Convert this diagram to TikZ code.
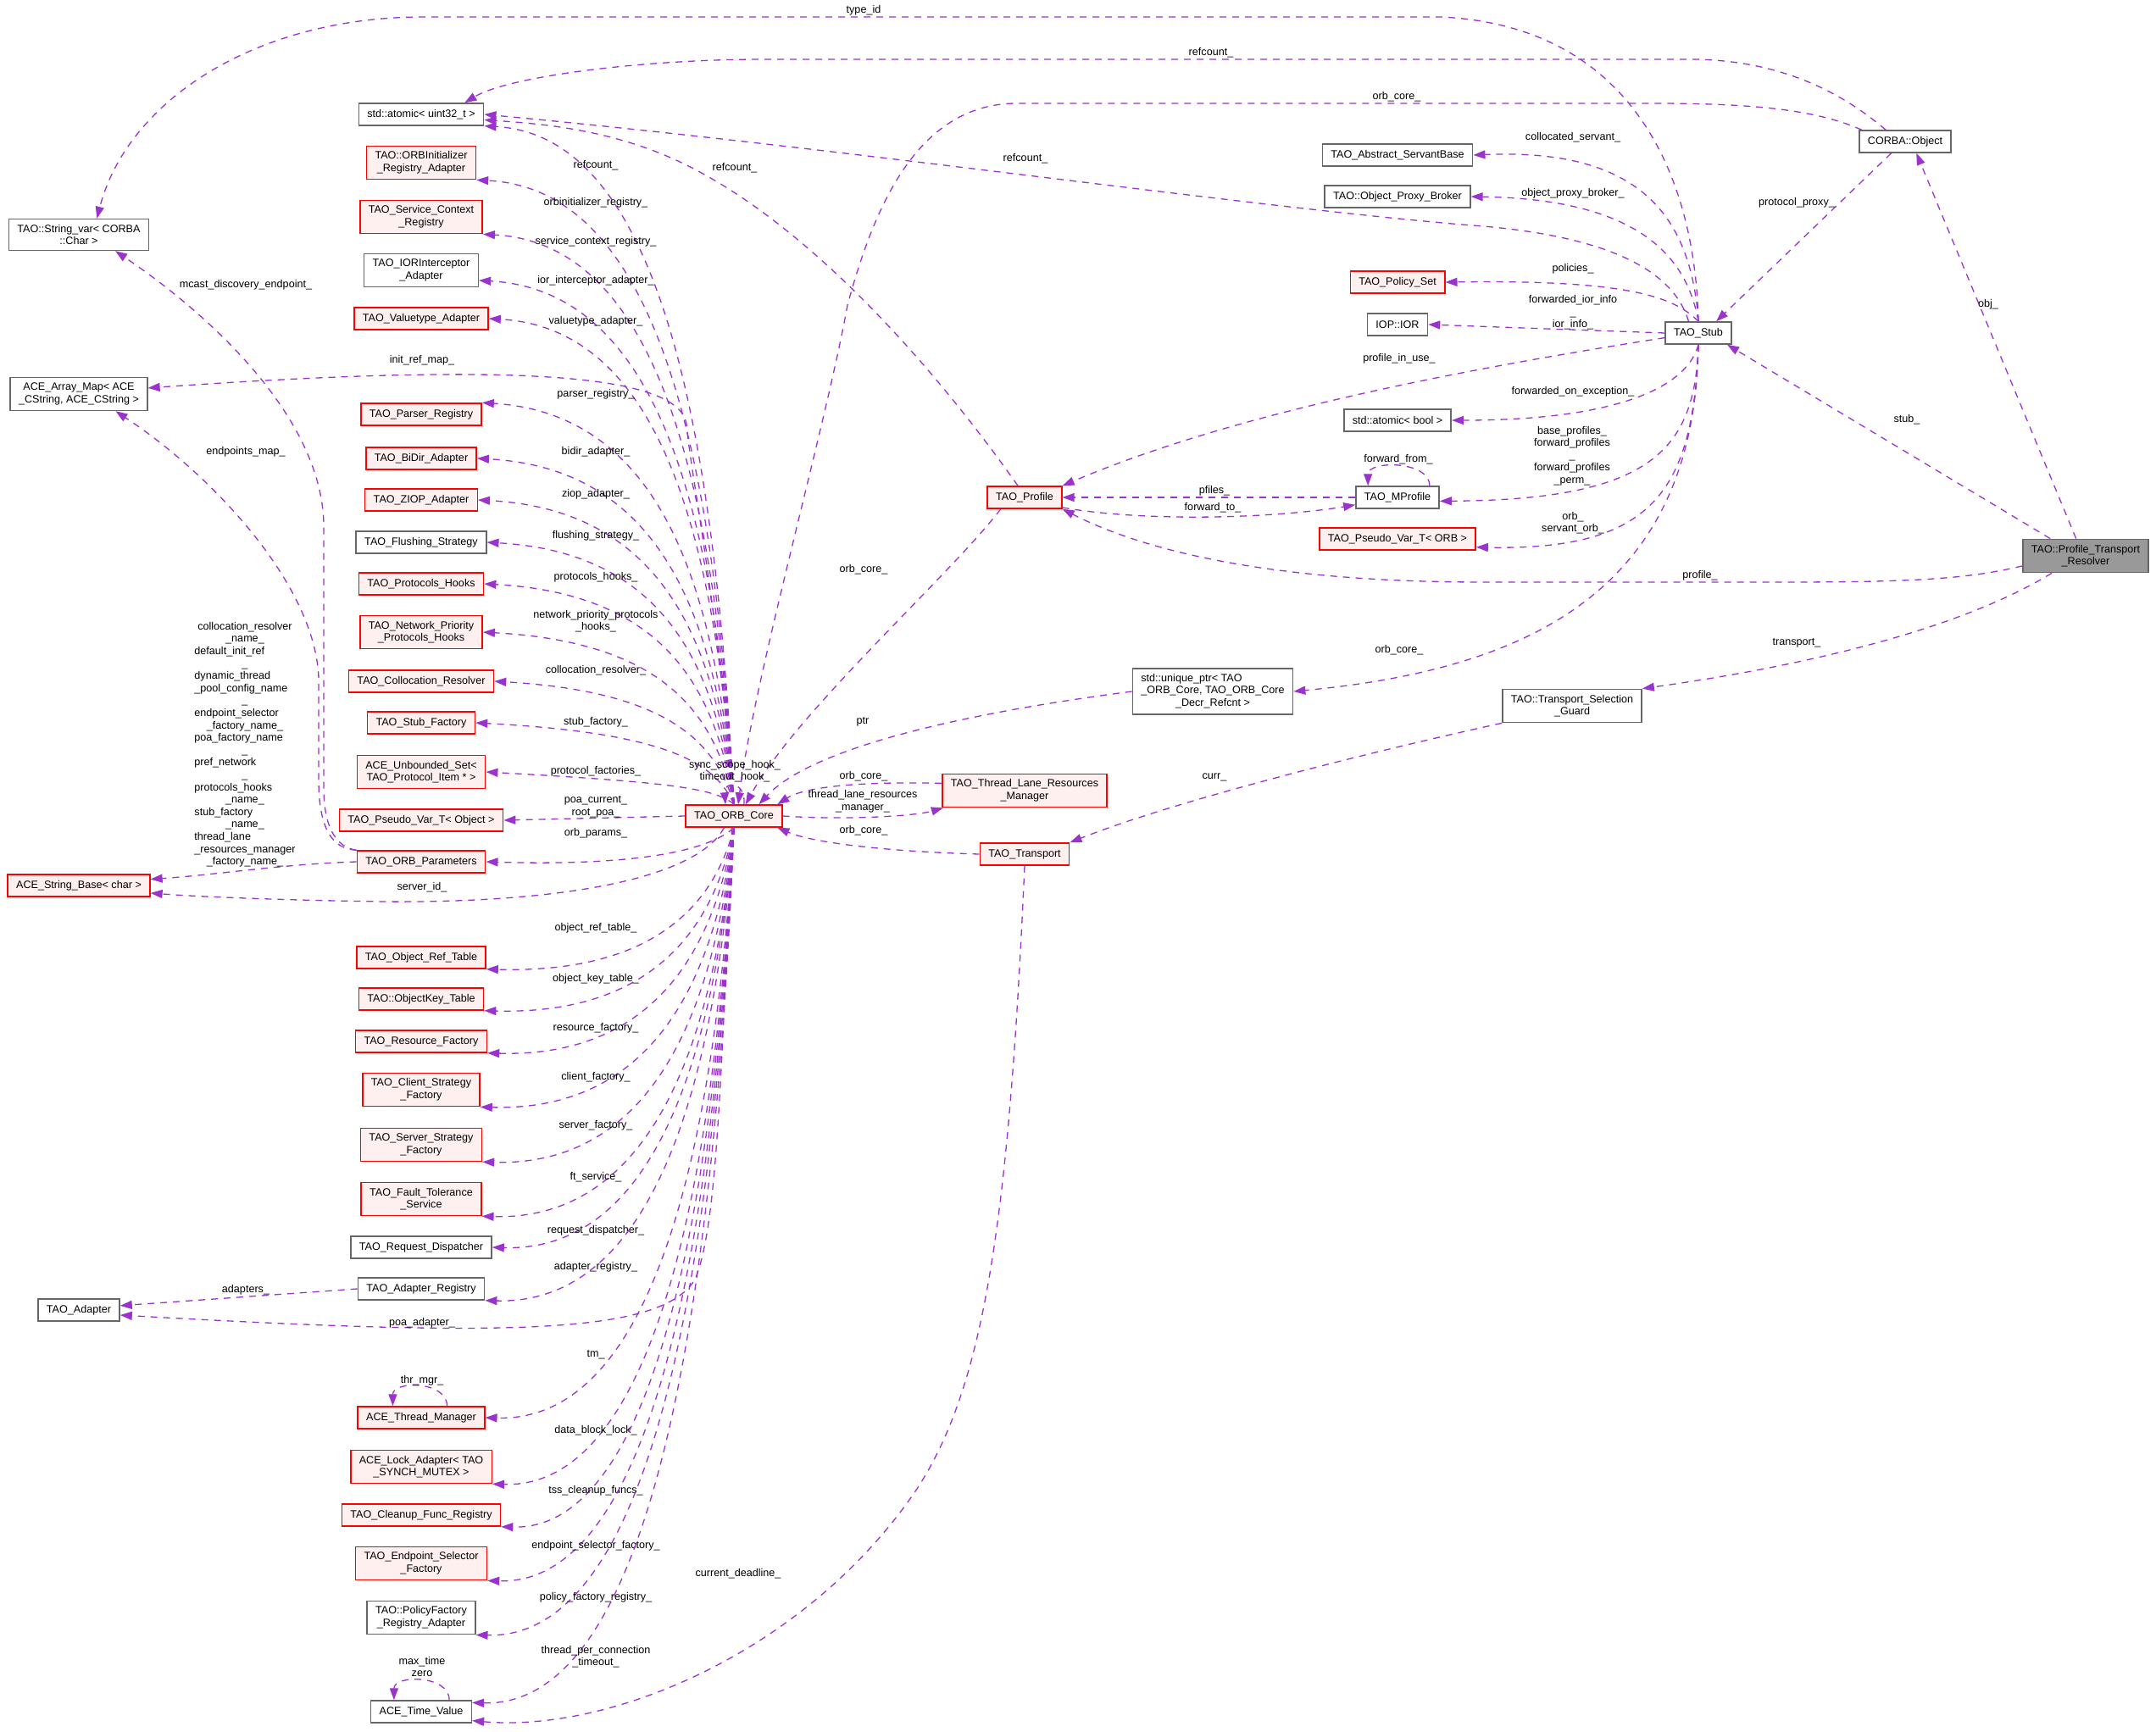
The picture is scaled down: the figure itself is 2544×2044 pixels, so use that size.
\documentclass[tikz,border=0pt]{standalone}
\usepackage{fontspec}
\setmainfont{Liberation Sans}
\usetikzlibrary{arrows.meta}
\definecolor{memberline}{HTML}{9A32CD}
\definecolor{truncfill}{HTML}{FFF0F0}
\definecolor{boxline}{HTML}{666666}
\definecolor{rootfill}{HTML}{999999}
\newcommand{\cenrow}[1]{\multicolumn{1}{@{}c@{}}{#1}}

\begin{document}
\begin{tikzpicture}[x=1pt, y=-1pt,
    cls/.style={draw, line width=1.5pt, font=\fontsize{12.6}{14.6}\selectfont,
      inner xsep=10pt, inner ysep=6.5pt, minimum height=26pt, align=center},
    graybox/.style={cls, draw=boxline, fill=white},
    redbox/.style={cls, draw=red, fill=truncfill},
    rootbox/.style={cls, draw=boxline, fill=rootfill},
    member/.style={draw=memberline, line width=1.3pt, dash pattern=on 8pt off 7pt,
      -{Triangle[length=14pt,width=10pt]}},
    lbl/.style={font=\fontsize{12.6}{14.6}\selectfont, inner sep=0pt, align=center}
]
\useasboundingbox (0,0) rectangle (2544,2044);

\node[graybox] (strvar) at (93,277) {TAO::String\_var< CORBA\\::Char >};
\node[graybox] (arraymap) at (93,465) {ACE\_Array\_Map< ACE\\\_CString, ACE\_CString >};
\node[redbox] (strbase) at (93,1045) {ACE\_String\_Base< char >};
\node[graybox] (adapter) at (93,1546) {TAO\_Adapter};

\node[graybox] (atomic32) at (497,135) {std::atomic< uint32\_t >};
\node[redbox] (orbinit) at (497,192) {TAO::ORBInitializer\\\_Registry\_Adapter};
\node[redbox] (svcctx) at (497,256) {TAO\_Service\_Context\\\_Registry};
\node[graybox] (iorint) at (497,319) {TAO\_IORInterceptor\\\_Adapter};
\node[redbox] (valuetype) at (497,376) {TAO\_Valuetype\_Adapter};
\node[redbox] (parser) at (497,489) {TAO\_Parser\_Registry};
\node[redbox] (bidir) at (497,541) {TAO\_BiDir\_Adapter};
\node[redbox] (ziop) at (497,590) {TAO\_ZIOP\_Adapter};
\node[graybox] (flushing) at (497,640) {TAO\_Flushing\_Strategy};
\node[redbox] (protohooks) at (497,689) {TAO\_Protocols\_Hooks};
\node[redbox] (netprio) at (497,746) {TAO\_Network\_Priority\\\_Protocols\_Hooks};
\node[redbox] (collres) at (497,804) {TAO\_Collocation\_Resolver};
\node[redbox] (stubfac) at (497,853) {TAO\_Stub\_Factory};
\node[redbox] (unbset) at (497,911) {ACE\_Unbounded\_Set<\\TAO\_Protocol\_Item * >};
\node[redbox] (pvobj) at (497,968) {TAO\_Pseudo\_Var\_T< Object >};
\node[redbox] (orbparams) at (497,1017) {TAO\_ORB\_Parameters};
\node[redbox] (objref) at (497,1130) {TAO\_Object\_Ref\_Table};
\node[redbox] (objkey) at (497,1179) {TAO::ObjectKey\_Table};
\node[redbox] (resfac) at (497,1229) {TAO\_Resource\_Factory};
\node[redbox] (clientfac) at (497,1286) {TAO\_Client\_Strategy\\\_Factory};
\node[redbox] (serverfac) at (497,1351) {TAO\_Server\_Strategy\\\_Factory};
\node[redbox] (ftserv) at (497,1415) {TAO\_Fault\_Tolerance\\\_Service};
\node[graybox] (reqdisp) at (497,1472) {TAO\_Request\_Dispatcher};
\node[graybox] (adreg) at (497,1521) {TAO\_Adapter\_Registry};
\node[redbox] (thrmgr) at (497,1673) {ACE\_Thread\_Manager};
\node[redbox] (lockad) at (497,1731) {ACE\_Lock\_Adapter< TAO\\\_SYNCH\_MUTEX >};
\node[redbox] (cleanup) at (497,1788) {TAO\_Cleanup\_Func\_Registry};
\node[redbox] (epsel) at (497,1845) {TAO\_Endpoint\_Selector\\\_Factory};
\node[graybox] (polfac) at (497,1909) {TAO::PolicyFactory\\\_Registry\_Adapter};
\node[graybox] (timeval) at (497,2020) {ACE\_Time\_Value};

\node[redbox] (orbcore) at (866,963) {TAO\_ORB\_Core};
\node[redbox] (profile) at (1209,587) {TAO\_Profile};
\node[redbox] (tlrm) at (1209,933) {TAO\_Thread\_Lane\_Resources\\\_Manager};
\node[redbox] (transport) at (1209,1008) {TAO\_Transport};
\node[graybox, inner ysep=5pt] (uniqptr) at (1431,816) {\begin{tabular}{@{}l@{}}std::unique\_ptr< TAO\\\_ORB\_Core, TAO\_ORB\_Core\\\cenrow{\_Decr\_Refcnt >}\end{tabular}};

\node[graybox] (servantbase) at (1649,183) {TAO\_Abstract\_ServantBase};
\node[graybox] (proxybroker) at (1649,232) {TAO::Object\_Proxy\_Broker};
\node[redbox] (policyset) at (1649,333) {TAO\_Policy\_Set};
\node[graybox] (ior) at (1649,383) {IOP::IOR};
\node[graybox] (atomicbool) at (1649,496) {std::atomic< bool >};
\node[graybox] (mprofile) at (1649,587) {TAO\_MProfile};
\node[redbox] (pvorb) at (1649,636) {TAO\_Pseudo\_Var\_T< ORB >};
\node[graybox] (tsguard) at (1855,833) {TAO::Transport\_Selection\\\_Guard};
\node[graybox] (stub) at (2004,393) {TAO\_Stub};
\node[graybox] (corbaobj) at (2248,167) {CORBA::Object};
\node[rootbox] (resolver) at (2461,656) {TAO::Profile\_Transport\\\_Resolver};

\foreach \tg/\an/\yt/\lab/\ly in {
    atomic32/south east/148/refcount\_/195,
    orbinit/south east/212/orbinitializer\_registry\_/239,
    svcctx/south east/276/service\_context\_registry\_/285,
    iorint/-10/331/ior\_interceptor\_adapter\_/331,
    valuetype/east/376/valuetype\_adapter\_/379,
    parser/north east/477/parser\_registry\_/465,
    bidir/east/541/bidir\_adapter\_/533,
    ziop/east/590/ziop\_adapter\_/583,
    flushing/east/640/flushing\_strategy\_/632,
    protohooks/east/689/protocols\_hooks\_/681,
    netprio/east/746/{network\_priority\_protocols\\\_hooks\_}/733,
    collres/east/804/collocation\_resolver\_/791,
    stubfac/east/853/stub\_factory\_/852,
    unbset/east/911/protocol\_factories\_/910}{
  \draw[member] (orbcore.north) .. controls (845,{(950+\yt)/2}) and (790,{\yt+12}) .. (\tg.\an);
  \node[lbl] (l-\tg) at (703,\ly) {\lab};
}

\foreach \tg/\an/\yt/\lab/\ly in {
    orbparams/east/1017/orb\_params\_/983,
    objref/south east/1143/object\_ref\_table\_/1095,
    objkey/south east/1192/object\_key\_table\_/1155,
    resfac/south east/1242/resource\_factory\_/1213,
    clientfac/south east/1306/client\_factory\_/1271,
    serverfac/south east/1371/server\_factory\_/1328,
    ftserv/south east/1435/ft\_service\_/1389,
    reqdisp/east/1472/request\_dispatcher\_/1452,
    adreg/south east/1534/adapter\_registry\_/1495,
    thrmgr/east/1673/tm\_/1599,
    lockad/south east/1751/data\_block\_lock\_/1688,
    cleanup/south east/1801/tss\_cleanup\_funcs\_/1759,
    epsel/south east/1865/endpoint\_selector\_factory\_/1824,
    polfac/south east/1929/policy\_factory\_registry\_/1885,
    timeval/10/2009/{thread\_per\_connection\\\_timeout\_}/1955}{
  \draw[member] (orbcore.south) .. controls (845,{(976+\yt)/2}) and (780,{\yt+6}) .. (\tg.\an);
  \node[lbl] (l-\tg) at (703,\ly) {\lab};
}

\draw[member] (orbcore.west) -- (pvobj.east);
\draw[member] (orbcore.north) .. controls (845,700) and (815,560) .. (810,500) .. controls (800,440) and (600,428) .. (arraymap.5);
\draw[member] (orbcore.-130) .. controls (820,1040) and (650,1066) .. (450,1064) .. controls (320,1062) and (230,1058) .. (strbase.-6);
\draw[member] (orbcore.-100) .. controls (850,1300) and (845,1450) .. (820,1510) .. controls (780,1575) and (600,1578) .. (adapter.-7);
\draw[member] ([xshift=12pt]orbcore.north) .. controls +(2,-28) and +(-2,-28) .. ([xshift=-10pt]orbcore.north);

\draw[member] (orbparams.north west) .. controls (396,1000) and (382,975) .. (382,930) -- (382,620) .. controls (381,500) and (260,380) .. (strvar.-24);
\draw[member] (orbparams.north west) .. controls (392,1002) and (376,978) .. (376,920) -- (376,800) .. controls (372,690) and (250,560) .. (arraymap.-25);
\draw[member] (orbparams.west) .. controls (330,1020) and (260,1032) .. (strbase.5);
\draw[member] (adreg.west) -- (adapter.6);
\draw[member] ([xshift=-45pt]thrmgr.north east) .. controls +(0,-30) and +(0,-30) .. ([xshift=42pt]thrmgr.north west);
\draw[member] ([xshift=-27pt]timeval.north east) .. controls +(0,-30) and +(0,-30) .. ([xshift=28pt]timeval.north west);

\draw[member] (stub.north) .. controls (2000,200) and (1920,30) .. (1700,20) -- (500,20) .. controls (300,20) and (150,120) .. (strvar.42);
\draw[member] (corbaobj.149) .. controls (2180,115) and (2110,72) .. (2000,70) -- (900,70) .. controls (760,70) and (600,90) .. (atomic32.15);
\draw[member] (corbaobj.165) .. controls (2140,128) and (2060,122) .. (1950,122) -- (1200,122) .. controls (1080,122) and (1030,250) .. (1000,360) .. controls (975,500) and (890,800) .. (orbcore.70);
\draw[member] (stub.130) .. controls (1975,320) and (1900,280) .. (1750,267) .. controls (1500,248) and (1000,175) .. (atomic32.east);
\draw[member] (profile.120) .. controls (1100,430) and (950,260) .. (800,190) .. controls (720,153) and (640,146) .. (atomic32.-5);
\draw[member] (profile.-154) .. controls (1120,680) and (940,840) .. (orbcore.45);

\draw[member] (stub.north) .. controls (1995,250) and (1930,175) .. (servantbase.east);
\draw[member] (stub.north) .. controls (1990,300) and (1930,235) .. (proxybroker.east);
\draw[member] (stub.north) .. controls (1975,350) and (1920,330) .. (policyset.east);
\draw[member] (stub.west) -- (ior.east);
\draw[member] (stub.188) .. controls (1700,440) and (1450,490) .. (profile.north east);
\draw[member] (stub.south) .. controls (1990,460) and (1900,496) .. (atomicbool.east);
\draw[member] (stub.south) .. controls (2000,530) and (1950,590) .. (mprofile.-5);
\draw[member] (stub.south) .. controls (1998,580) and (1950,650) .. (pvorb.-6);
\draw[member] (stub.south) .. controls (2000,700) and (1800,790) .. (uniqptr.east);
\draw[member] (corbaobj.-140) -- (stub.33);

\draw[member] (resolver.119) -- (corbaobj.-46);
\draw[member] (resolver.154) -- (stub.-22);
\draw[member] (resolver.189) .. controls (2320,684) and (2250,687) .. (2100,687) -- (1750,687) .. controls (1500,687) and (1350,650) .. (profile.south east);
\draw[member] (resolver.-153) .. controls (2300,750) and (2100,790) .. (tsguard.north east);
\draw[member] (tsguard.south west) .. controls (1650,880) and (1400,940) .. (transport.north east);
\draw[member] (transport.south) .. controls (1190,1450) and (1160,1640) .. (1080,1760) .. controls (950,1950) and (720,2045) .. (timeval.-10);

\draw[member] (mprofile.west) -- (profile.east);
\draw[member] (profile.-15) .. controls (1350,616) and (1500,612) .. (mprofile.-170);
\draw[member] ([xshift=-12pt]mprofile.north east) .. controls +(0,-30) and +(0,-30) .. ([xshift=15pt]mprofile.north west);
\draw[member] (uniqptr.west) .. controls (1150,840) and (960,880) .. (orbcore.25);
\draw[member] (tlrm.175) .. controls (1020,922) and (950,928) .. (orbcore.15);
\draw[member] (orbcore.east) .. controls (1000,968) and (1080,963) .. (tlrm.-168);
\draw[member] (transport.west) .. controls (1050,1005) and (960,995) .. (orbcore.-15);

\node[lbl] (l-typeid) at (1019,12) {type\_id};
\node[lbl] (l-objref) at (1429,62) {refcount\_};
\node[lbl] (l-objcore) at (1648,114) {orb\_core\_};
\node[lbl] (l-stubref) at (1210,187) {refcount\_};
\node[lbl] (l-profref) at (867,198) {refcount\_};
\node[lbl] (l-mcast) at (290,336) {mcast\_discovery\_endpoint\_};
\node[lbl] (l-servant) at (1856,162) {collocated\_servant\_};
\node[lbl] (l-broker) at (1856,228) {object\_proxy\_broker\_};
\node[lbl] (l-proxy) at (2120,239) {protocol\_proxy\_};
\node[lbl] (l-policies) at (1856,317) {policies\_};
\node[lbl] (l-ior) at (1856,369) {forwarded\_ior\_info\\\_\\ior\_info\_};
\node[lbl] (l-obj) at (2346,359) {obj\_};
\node[lbl] (l-inuse) at (1651,423) {profile\_in\_use\_};
\node[lbl] (l-onexc) at (1856,462) {forwarded\_on\_exception\_};
\node[lbl] (l-stub) at (2250,495) {stub\_};
\node[lbl] (l-profiles) at (1855,538) {base\_profiles\_\\forward\_profiles\\\_\\forward\_profiles\\\_perm\_};
\node[lbl] (l-from) at (1650,542) {forward\_from\_};
\node[lbl] (l-pfiles) at (1433,579) {pfiles\_};
\node[lbl] (l-to) at (1431,599) {forward\_to\_};
\node[lbl] (l-orb) at (1856,617) {orb\_\\servant\_orb\_};
\node[lbl] (l-profile) at (2006,679) {profile\_};
\node[lbl] (l-profcore) at (1019,672) {orb\_core\_};
\node[lbl] (l-transp) at (2120,759) {transport\_};
\node[lbl] (l-stubcore) at (1651,767) {orb\_core\_};
\node[lbl] (l-ptr) at (1018,852) {ptr};
\node[lbl] (l-curr) at (1433,917) {curr\_};
\node[lbl] (l-tlrmcore) at (1019,916) {orb\_core\_};
\node[lbl] (l-tlrm) at (1018,946) {thread\_lane\_resources\\\_manager\_};
\node[lbl] (l-transcore) at (1019,980) {orb\_core\_};
\node[lbl] (l-hooks) at (867,910) {sync\_scope\_hook\_\\timeout\_hook\_};
\node[lbl] (l-deadline) at (871,1857) {current\_deadline\_};
\node[lbl] (l-initref) at (498,425) {init\_ref\_map\_};
\node[lbl] (l-endpoints) at (290,533) {endpoints\_map\_};
\node[lbl] (l-names) at (289,879) {\begin{tabular}{@{}l@{}}
\cenrow{collocation\_resolver}\\ \cenrow{\_name\_}\\ default\_init\_ref\\ \cenrow{\_}\\
dynamic\_thread\\ \_pool\_config\_name\\ \cenrow{\_}\\ endpoint\_selector\\
\cenrow{\_factory\_name\_}\\ poa\_factory\_name\\ \cenrow{\_}\\ pref\_network\\
\cenrow{\_}\\ protocols\_hooks\\ \cenrow{\_name\_}\\ stub\_factory\\
\cenrow{\_name\_}\\ thread\_lane\\ \cenrow{\_resources\_manager}\\ \cenrow{\_factory\_name\_}
\end{tabular}};
\node[lbl] (l-poa) at (703,952) {poa\_current\_\\root\_poa\_};
\node[lbl] (l-server) at (498,1047) {server\_id\_};
\node[lbl] (l-adapters) at (290,1522) {adapters\_};
\node[lbl] (l-poaad) at (498,1561) {poa\_adapter\_};
\node[lbl] (l-thr) at (498,1629) {thr\_mgr\_};
\node[lbl] (l-time) at (498,1967) {max\_time\\zero};

\end{tikzpicture}
\end{document}
